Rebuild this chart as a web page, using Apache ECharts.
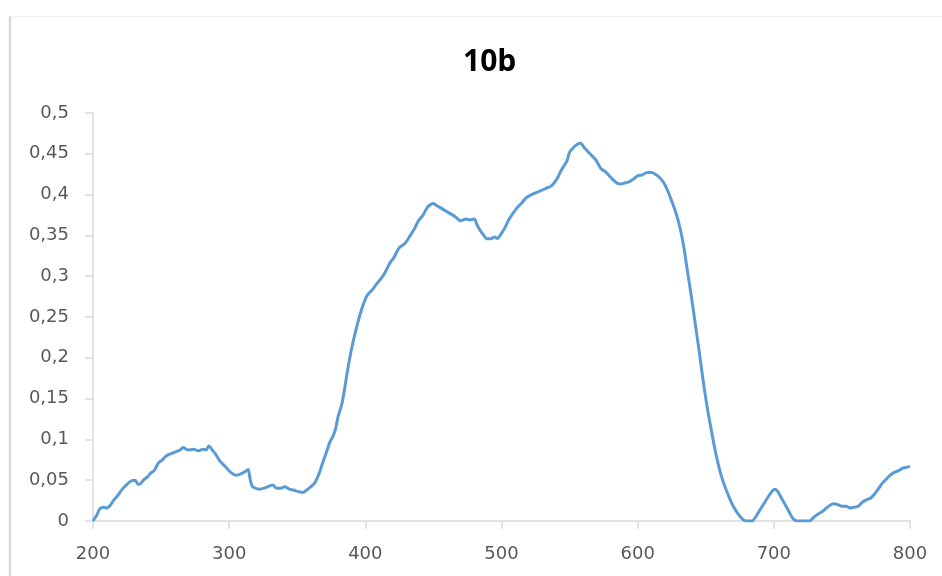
<!DOCTYPE html>
<html>
<head>
<meta charset="utf-8">
<script src="https://cdn.jsdelivr.net/npm/echarts@6/dist/echarts.min.js"></script>
<style>
html,body{margin:0;padding:0;background:#fff;}
#chart{width:942px;height:576px;}
</style>
</head>
<body>
<div id="chart"></div>
<script>
const titleText = "10b";
const xTicks = [200, 300, 400, 500, 600, 700, 800];
const yTicks = [0, 0.05, 0.1, 0.15, 0.2, 0.25, 0.3, 0.35, 0.4, 0.45, 0.5];

const wavelength = [
200,203,205,208,210,213,215,218,222,225,228,231,233,235,237,240,242,245,248,251,
254,258,261,264,266,270,274,277,281,283,285,288,290,293,297,301,305,309,313,314,
315,316.5,318,322,327,332,335,337,341,344,347,351,354,357,360,363,366,368,371,374,
376,378,380,383,387,390,394,397,400,402,405,408,411,414,418,421,425,429,433,436,
439,442,446,450,452,455,458,462,466,470,474,477,480,482,484,487,489,492,495,497,
499,502,505,508,512,515,518,521,525,529,533,536,538,541,543,545,548,550,553,556,
558,561,565,569,573,577,582,585,587,590,594,597,600,603,607,610,613,616,619,622,
625,628,631,634,636,639,642,645,648,651,654,657,660,663,666,669,672,675,678,681,
684,687,690,693,696,699,701,703,705,708,711,714,717,720,723,726,729,732,735,738,
741,744,747,750,753,756,759,762,765,768,771,774,777,780,783,786,789,792,795,798,800
];

const absorbance = [
0.000,0.008,0.015,0.017,0.016,0.020,0.025,0.031,0.040,0.045,0.049,0.050,0.045,0.046,0.050,0.054,0.058,0.062,0.071,0.075,
0.080,0.083,0.085,0.087,0.090,0.087,0.088,0.086,0.088,0.087,0.092,0.086,0.082,0.074,0.067,0.060,0.056,0.058,0.062,0.063,
0.055,0.044,0.041,0.039,0.041,0.044,0.040,0.040,0.042,0.039,0.038,0.036,0.035,0.038,0.042,0.047,0.058,0.068,0.082,0.097,
0.103,0.112,0.128,0.145,0.185,0.212,0.240,0.258,0.272,0.278,0.283,0.290,0.296,0.303,0.316,0.323,0.335,0.340,0.350,0.358,
0.368,0.374,0.385,0.389,0.387,0.384,0.381,0.377,0.373,0.368,0.370,0.369,0.370,0.363,0.357,0.350,0.346,0.346,0.348,0.346,
0.350,0.358,0.368,0.376,0.385,0.390,0.396,0.399,0.402,0.405,0.408,0.410,0.413,0.420,0.427,0.433,0.441,0.452,0.458,0.462,
0.463,0.457,0.450,0.443,0.432,0.427,0.418,0.414,0.413,0.414,0.416,0.419,0.423,0.424,0.427,0.427,0.425,0.421,0.415,0.405,
0.392,0.378,0.360,0.335,0.312,0.280,0.245,0.210,0.173,0.140,0.112,0.086,0.064,0.047,0.034,0.022,0.013,0.006,0.001,0.000,
0.000,0.006,0.014,0.022,0.030,0.037,0.039,0.036,0.030,0.021,0.012,0.003,0.000,0.000,0.000,0.000,0.004,0.008,0.011,0.015,
0.019,0.021,0.020,0.018,0.018,0.016,0.017,0.018,0.023,0.026,0.028,0.033,0.040,0.047,0.052,0.057,0.060,0.062,0.065,0.066,0.067
];

const seriesData = wavelength.map((w, i) => [w, absorbance[i]]);

const chart = echarts.init(document.getElementById('chart'), null, {renderer: 'canvas'});
const labelFont = {fontFamily: 'DejaVu Sans', fontSize: 18, color: '#595959'};

chart.setOption({
  animation: false,
  backgroundColor: '#ffffff',
  title: {
    text: titleText,
    left: 458,
    top: 42,
    textStyle: {fontFamily: 'Open Sans', fontWeight: 'bold', fontSize: 30, color: '#000000'}
  },
  graphic: [
    {type: 'line', shape: {x1: 10, y1: 16, x2: 10, y2: 576}, style: {stroke: '#d9d9d9', lineWidth: 2.5}},
    {type: 'line', shape: {x1: 10, y1: 16.5, x2: 942, y2: 16.5}, style: {stroke: '#eeeeee', lineWidth: 1}}
  ],
  grid: {left: 93, right: 32, top: 113, bottom: 55, containLabel: false},
  xAxis: {
    type: 'value',
    min: xTicks[0],
    max: xTicks[xTicks.length - 1],
    interval: 100,
    axisLine: {show: true, lineStyle: {color: '#d9d9d9', width: 1.5}},
    axisTick: {show: true, inside: false, length: 8, lineStyle: {color: '#d9d9d9', width: 1.5}},
    axisLabel: Object.assign({margin: 24, formatter: v => String(v)}, labelFont),
    splitLine: {show: false}
  },
  yAxis: {
    type: 'value',
    min: yTicks[0],
    max: yTicks[yTicks.length - 1],
    interval: 0.05,
    axisLine: {show: true, lineStyle: {color: '#d9d9d9', width: 1.5}},
    axisTick: {show: true, inside: false, length: 8, lineStyle: {color: '#d9d9d9', width: 1.5}},
    axisLabel: Object.assign({margin: 24, formatter: v => String(Math.round(v * 100) / 100).replace('.', ',')}, labelFont),
    splitLine: {show: false}
  },
  series: [{
    type: 'line',
    data: seriesData,
    showSymbol: false,
    smooth: 0.3,
    clip: true,
    lineStyle: {color: '#5b9bd5', width: 3}
  }]
});
</script>
</body>
</html>
